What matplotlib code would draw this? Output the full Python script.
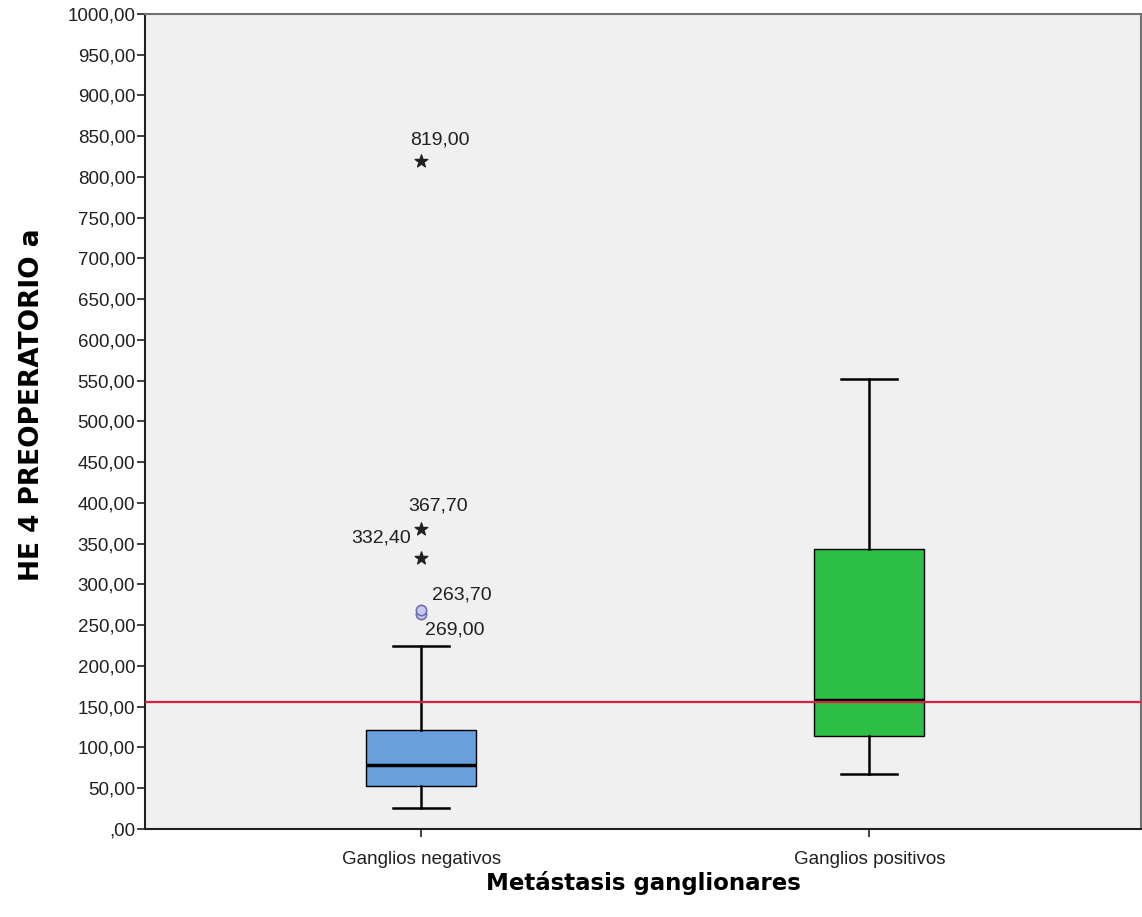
import numpy as np
import matplotlib
matplotlib.use("Agg")
import matplotlib.pyplot as plt
from matplotlib.ticker import FuncFormatter

plt.rcParams['font.family'] = ['Liberation Sans', 'DejaVu Sans']

# Datos
categories = ["Ganglios negativos", "Ganglios positivos"]
whislo = [26.0, 67.0]
q1 = [53.0, 114.0]
med = [78.0, 158.0]
q3 = [122.0, 344.0]
whishi = [225.0, 552.0]
box_colors = ["#6A9FDD", "#2DBE45"]

# Atipicos (circulo) y extremos (estrella) del grupo negativo
outliers_vals = [263.7, 269.0]
extremes_vals = [332.4, 367.7, 819.0]
cutoff = 156.0

fig = plt.figure(figsize=(11.42, 9.17), dpi=100)
ax = fig.add_axes([0.127, 0.096, 0.872, 0.889])
ax.set_facecolor("#F0F0F0")

stats = []
for i in range(len(categories)):
    stats.append(dict(label=categories[i], whislo=whislo[i], q1=q1[i], med=med[i],
                      q3=q3[i], whishi=whishi[i], fliers=[]))

bp = ax.bxp(stats, positions=[1, 2], widths=0.245, patch_artist=True,
            showfliers=False,
            boxprops=dict(edgecolor="black", linewidth=1.0),
            medianprops=dict(color="black", linewidth=2.5),
            whiskerprops=dict(color="black", linewidth=1.8),
            capprops=dict(color="black", linewidth=1.8),
            capwidths=0.125)
for patch, c in zip(bp["boxes"], box_colors):
    patch.set_facecolor(c)

# linea de corte roja
ax.axhline(cutoff, color="#D92040", linewidth=1.6, zorder=5)

# atipicos
ax.scatter([1] * len(outliers_vals), outliers_vals, s=55, facecolors="#C8C8F0",
           edgecolors="#7070B0", linewidths=1.2, zorder=6)
ax.scatter([1] * len(extremes_vals), extremes_vals, marker="*", s=90,
           color="#202020", zorder=6)

px = 0.72  # pixel -> points
lab_kw = dict(fontsize=14, color="#202020", textcoords="offset points", va="center")
ax.annotate("819,00", (1, 819.0), xytext=(-11 * px, 21 * px), ha="left", **lab_kw)
ax.annotate("367,70", (1, 367.7), xytext=(-13 * px, 23 * px), ha="left", **lab_kw)
ax.annotate("332,40", (1, 332.4), xytext=(-10 * px, 20 * px), ha="right", **lab_kw)
ax.annotate("263,70", (1, 263.7), xytext=(11 * px, 19 * px), ha="left", **lab_kw)
ax.annotate("269,00", (1, 269.0), xytext=(4 * px, -20 * px), ha="left", **lab_kw)

ax.set_xlim(0.384, 2.606)
ax.set_ylim(0, 1000)
ax.set_yticks(np.arange(0, 1001, 50))
ax.yaxis.set_major_formatter(FuncFormatter(
    lambda v, p: ",00" if v == 0 else f"{v:.2f}".replace(".", ",")))
ax.tick_params(axis="y", labelsize=13.5, length=6, width=1.2, colors="#202020", pad=1)
ax.tick_params(axis="x", labelsize=13.5, length=6, width=1.2, colors="#202020", pad=10)
ax.set_xticks([1, 2])
ax.set_xticklabels(categories)

for s in ["left", "bottom"]:
    ax.spines[s].set_linewidth(1.5)
    ax.spines[s].set_color("#202020")
for s in ["top", "right"]:
    ax.spines[s].set_linewidth(1.5)
    ax.spines[s].set_color("#707070")

ax.set_ylabel("HE 4 PREOPERATORIO a", fontsize=19, fontweight="bold",
              family="DejaVu Sans")
ax.yaxis.set_label_coords(-0.100, 0.521)
ax.set_xlabel("Metástasis ganglionares", fontsize=16.5, fontweight="bold", labelpad=2,
              family="DejaVu Sans")

fig.savefig("out.png", dpi=100)
